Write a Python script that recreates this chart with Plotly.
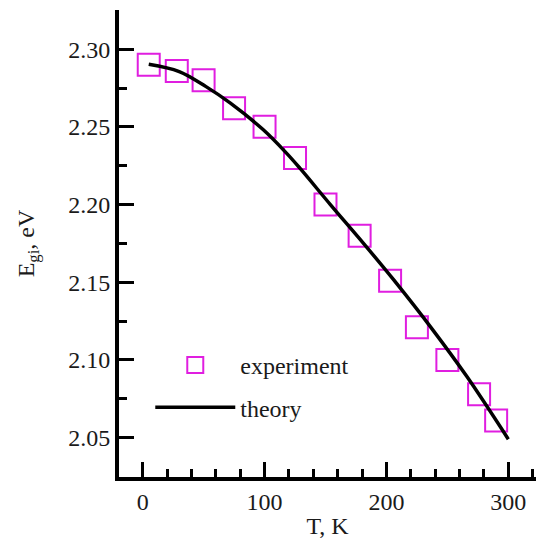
import plotly.graph_objects as go

# experiment
T_exp = [5, 28, 50, 75, 100, 125, 150, 178, 203, 225, 250, 276, 290]
E_exp = [2.290, 2.286, 2.280, 2.262, 2.250, 2.230, 2.200, 2.180, 2.151, 2.121, 2.100, 2.078, 2.061]

# theory curve
T_th = [5, 30, 52, 72, 99, 118, 129, 154, 181, 206, 238, 266, 300]
E_th = [2.2903, 2.2856, 2.2759, 2.2653, 2.2481, 2.2331, 2.2234, 2.2000, 2.1752, 2.1515, 2.1194, 2.0893, 2.0490]

x_ticks = [0, 100, 200, 300]
y_ticks = [2.05, 2.10, 2.15, 2.20, 2.25, 2.30]

FONT = "Liberation Serif"
TXT = "#1a1a1a"
FS = 24

fig = go.Figure()
fig.add_trace(go.Scatter(
    x=T_exp, y=E_exp, mode="markers", name="experiment", legendgroup="a",
    marker=dict(symbol="square-open", size=22, color="#e01ee0", line=dict(width=2, color="#e01ee0")),
))
fig.add_trace(go.Scatter(
    x=T_th, y=E_th, mode="lines", name="theory", line_shape="spline", legendgroup="b",
    line=dict(color="black", width=3.5),
))

fig.update_layout(
    width=536, height=543,
    margin=dict(l=119, r=0, t=10, b=66),
    paper_bgcolor="white", plot_bgcolor="white",
    font=dict(family=FONT, size=FS, color=TXT),
    legend=dict(x=0.075, y=0.287, xanchor="left", yanchor="top",
                bgcolor="rgba(0,0,0,0)", font=dict(size=FS, family=FONT, color=TXT),
                itemwidth=80, tracegroupgap=8, traceorder="grouped"),
    xaxis=dict(
        range=[-19.4, 322.7], tickvals=x_ticks, ticktext=[str(v) for v in x_ticks],
        ticks="inside", ticklen=15, tickwidth=3, tickcolor="black",
        showline=True, linewidth=4, linecolor="black", showgrid=False, zeroline=False,
        minor=dict(dtick=20, tick0=0, ticks="inside", ticklen=8, tickwidth=3, tickcolor="black", showgrid=False),
        title=dict(text="T, K", font=dict(size=FS, family=FONT, color=TXT), standoff=4),
        tickfont=dict(size=FS, family=FONT, color=TXT),
    ),
    yaxis=dict(
        range=[2.0247, 2.3252], tickvals=y_ticks, ticktext=["%.2f" % v for v in y_ticks],
        ticks="inside", ticklen=15, tickwidth=3, tickcolor="black",
        showline=True, linewidth=4, linecolor="black", showgrid=False, zeroline=False,
        minor=dict(dtick=0.025, tick0=2.0, ticks="inside", ticklen=8, tickwidth=3, tickcolor="black", showgrid=False),
        title=dict(text="E<sub>gi</sub>, eV", font=dict(size=FS, family=FONT, color=TXT), standoff=28),
        tickfont=dict(size=FS, family=FONT, color=TXT),
    ),
)

fig.write_html("out.html")
